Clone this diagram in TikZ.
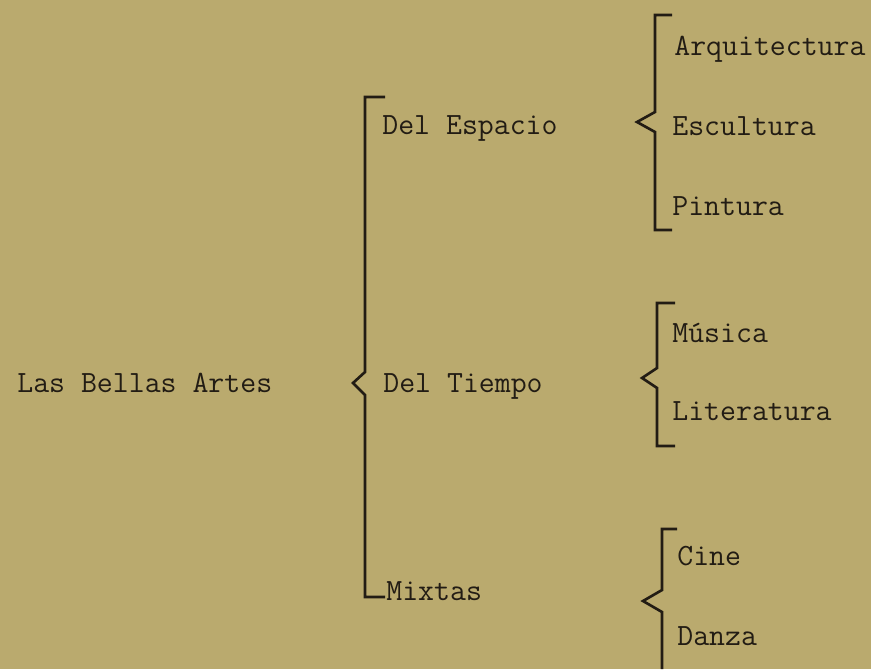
\documentclass[tikz,border=0pt]{standalone}
\usepackage{fontspec}
\usepackage{tikz}

\definecolor{paper}{RGB}{186,170,110}
\definecolor{ink}{RGB}{34,28,20}

\begin{document}
\begin{tikzpicture}
    \tikzstyle{every node}=[inner sep=0pt, anchor=base west, text=ink, font=\fontsize{17.6}{20}\selectfont\ttfamily]
    \tikzstyle{bracket}=[draw=ink, line width=1.5pt, line join=miter]

    % page
    \fill[paper] (0,0) rectangle (17.42,13.38);
    \useasboundingbox (0,0) rectangle (17.42,13.38);

    % root
    \node (artes) at (0.34,5.54) {Las Bellas Artes};

    % main bracket
    \draw[bracket] (7.7,11.44) -- (7.3,11.44) -- (7.3,5.94) -- (7.06,5.72)
        -- (7.3,5.48) -- (7.3,1.44) -- (7.7,1.44);

    % groups
    \node (espacio) at (7.64,10.7) {Del Espacio};
    \node (tiempo) at (7.66,5.54) {Del Tiempo};
    \node (mixtas) at (7.72,1.38) {Mixtas};

    % space bracket
    \draw[bracket] (13.44,13.08) -- (13.1,13.08) -- (13.1,11.14) -- (12.74,10.94)
        -- (13.1,10.74) -- (13.1,8.78) -- (13.44,8.78);
    \node (arq) at (13.48,12.28) {Arquitectura};
    \node (esc) at (13.44,10.68) {Escultura};
    \node (pin) at (13.44,9.08) {Pintura};

    % time bracket
    \draw[bracket] (13.5,7.32) -- (13.14,7.32) -- (13.14,6.02) -- (12.84,5.82)
        -- (13.14,5.62) -- (13.14,4.46) -- (13.5,4.46);
    \node (mus) at (13.44,6.54) {Música};
    \node (lit) at (13.44,4.98) {Literatura};

    % mixed bracket
    \draw[bracket] (13.54,2.8) -- (13.24,2.8) -- (13.24,1.58) -- (12.86,1.36)
        -- (13.24,1.14) -- (13.24,0);
    \node (cine) at (13.54,2.08) {Cine};
    \node (danza) at (13.54,0.48) {Danza};

\end{tikzpicture}
\end{document}
